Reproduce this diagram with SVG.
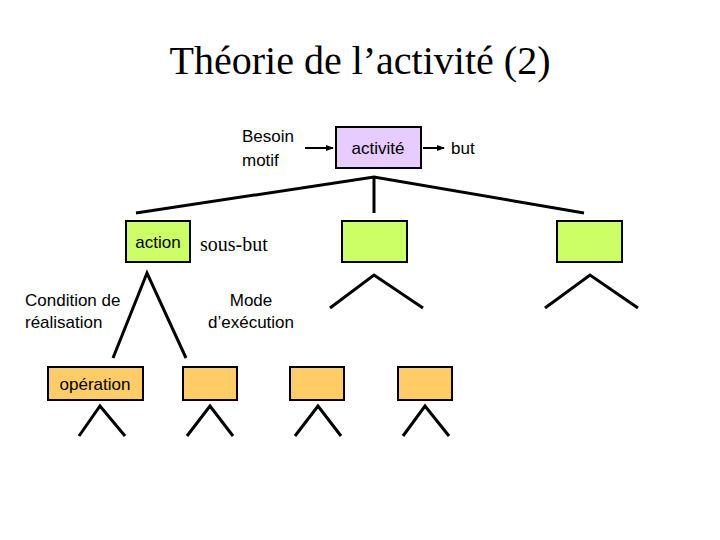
<svg xmlns="http://www.w3.org/2000/svg" width="720" height="540" viewBox="0 0 720 540">
<style>
.s{font-family:"Liberation Sans",Arial,sans-serif;font-size:17px;fill:#000}
.l{stroke:#000;stroke-width:3;fill:none}
.g{fill:#ccff66;stroke:#000;stroke-width:2}
.o{fill:#ffcc66;stroke:#000;stroke-width:2}
</style>
<defs><marker id="a" markerWidth="8" markerHeight="8" refX="7" refY="4" orient="auto" markerUnits="userSpaceOnUse"><path d="M0,1 L8,4 L0,7z" fill="#000"/></marker></defs>
<rect width="720" height="540" fill="#fff"/>
<text x="360" y="74" text-anchor="middle" font-family="Liberation Serif,serif" font-size="40">Théorie de l’activité (2)</text>
<g id="connectors">
<line x1="305" y1="148" x2="333" y2="148" stroke="#000" stroke-width="2" marker-end="url(#a)"/>
<line x1="423" y1="148" x2="444" y2="148" stroke="#000" stroke-width="2" marker-end="url(#a)"/>
<polyline class="l" points="136,213 374,177 584,213"/>
<line class="l" x1="374" y1="177" x2="374" y2="213"/>
<polyline class="l" points="113,358 147,273 186,358"/>
<polyline class="l" points="330,308 374,275 423,308"/>
<polyline class="l" points="545,308 590,275 638,308"/>
<polyline class="l" points="79,436 100,406 125,436"/>
<polyline class="l" points="187,436 210,406 233,436"/>
<polyline class="l" points="295,436 318,406 341,436"/>
<polyline class="l" points="403,436 425,406 449,436"/>
</g>
<g id="besoin"><text class="s" x="242" y="142">Besoin</text><text class="s" x="242" y="166">motif</text></g>
<g id="activite"><rect x="336" y="127" width="85" height="41" fill="#e6ccff" stroke="#000" stroke-width="2"/><text class="s" x="378" y="154" text-anchor="middle">activité</text></g>
<g id="but"><text class="s" x="451" y="154">but</text></g>
<g id="action"><rect class="g" x="126" y="221" width="64" height="41"/><text class="s" x="158" y="248" text-anchor="middle">action</text></g>
<g id="sousbut"><text x="200" y="251" font-family="Liberation Serif,serif" font-size="20">sous-but</text></g>
<g id="action2"><rect class="g" x="342" y="221" width="65" height="41"/></g>
<g id="action3"><rect class="g" x="557" y="221" width="65" height="41"/></g>
<g id="condition"><text class="s" x="25" y="306" font-size="16">Condition de</text><text class="s" x="25" y="328">réalisation</text></g>
<g id="mode"><text class="s" x="251" y="306" text-anchor="middle">Mode</text><text class="s" x="251" y="328" text-anchor="middle">d’exécution</text></g>
<g id="operation"><rect class="o" x="48" y="367" width="95" height="33"/><text class="s" x="95" y="390" text-anchor="middle">opération</text></g>
<g id="op2"><rect class="o" x="183" y="367" width="54" height="33"/></g>
<g id="op3"><rect class="o" x="290" y="367" width="54" height="33"/></g>
<g id="op4"><rect class="o" x="398" y="367" width="54" height="33"/></g>
</svg>
